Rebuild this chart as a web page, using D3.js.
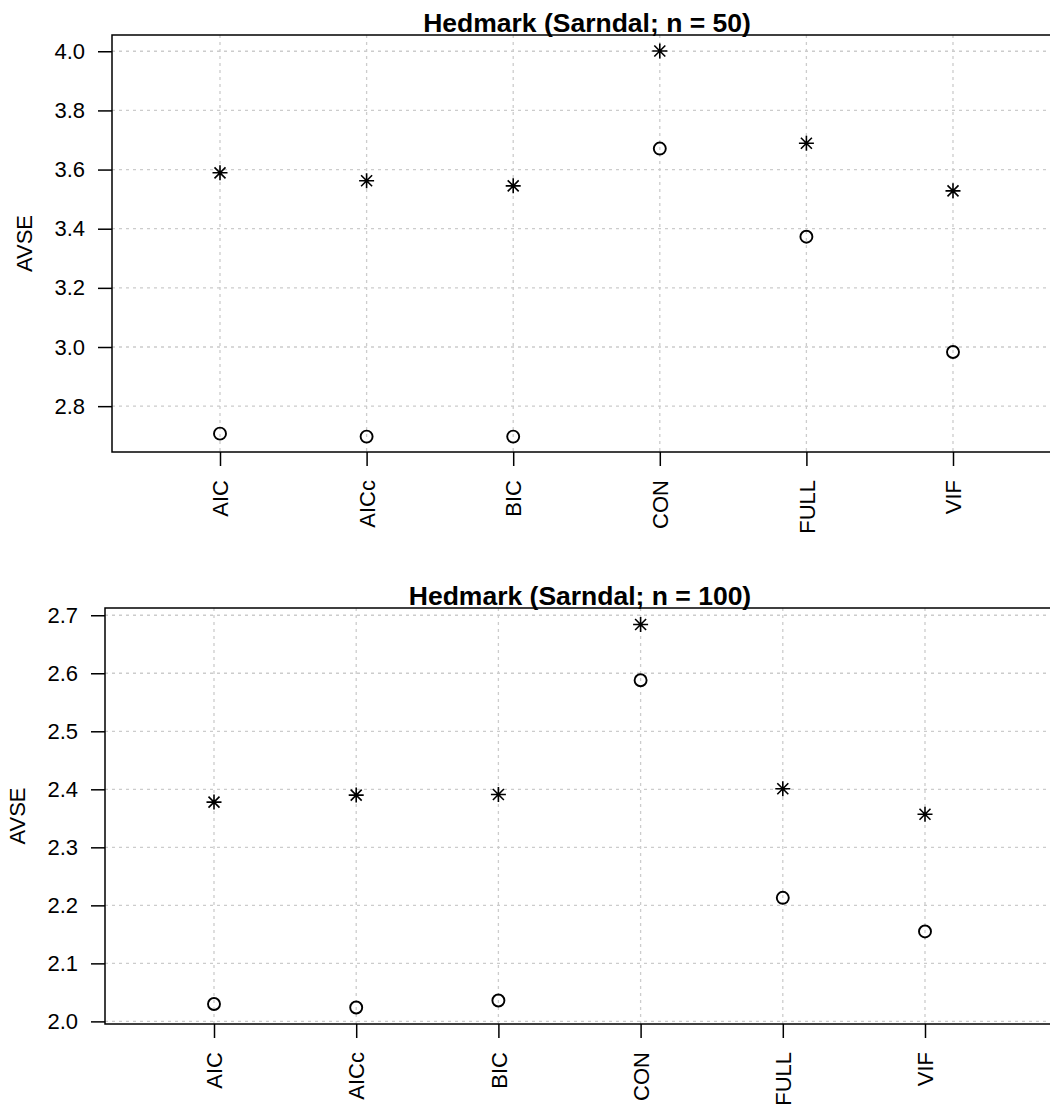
<!DOCTYPE html>
<html>
<head>
<meta charset="utf-8">
<script src="https://cdn.jsdelivr.net/npm/d3@7"></script>
<style>
  body { margin: 0; background: #fff; }
  svg { display: block; font-family: "Liberation Sans", Arial, Helvetica, sans-serif; }
</style>
</head>
<body>
<svg width="1050" height="1107"></svg>
<script>
const width = 1050
const height = 1107

// data
const methods = ["AIC", "AICc", "BIC", "CON", "FULL", "VIF"]

const titles = ["Hedmark (Sarndal; n = 50)", "Hedmark (Sarndal; n = 100)"]

const starN50 = [3.589, 3.562, 3.545, 4.001, 3.689, 3.528]
const circN50 = [2.707, 2.697, 2.697, 3.671, 3.373, 2.983]

const starN100 = [2.378, 2.390, 2.391, 2.684, 2.401, 2.357]
const circN100 = [2.030, 2.024, 2.036, 2.588, 2.213, 2.155]

const ticksN50 = [2.8, 3.0, 3.2, 3.4, 3.6, 3.8, 4.0]
const ticksN100 = [2.0, 2.1, 2.2, 2.3, 2.4, 2.5, 2.6, 2.7]

// panel layout (pixel boxes, R-style frame running off the right edge)
const panels = [
  {title: titles[0], stars: starN50, circles: circN50, ticks: ticksN50,
   left: 112, right: 1062, top: 35, bottom: 452,
   xFirst: 220, xLast: 953, yDomain: [2.645, 4.055], ylabX: 24},
  {title: titles[1], stars: starN100, circles: circN100, ticks: ticksN100,
   left: 105, right: 1055, top: 608, bottom: 1024,
   xFirst: 214, xLast: 925, yDomain: [1.9955, 2.7125], ylabX: 17}
]

const svg = d3.select("svg")

panels.forEach(p => {
  const g = svg.append("g")

  const x = d3.scalePoint()
    .domain(methods)
    .range([p.xFirst, p.xLast])

  const y = d3.scaleLinear()
    .domain(p.yDomain)
    .range([p.bottom, p.top])

  // grid
  g.append("g")
    .selectAll("line")
    .data(p.ticks)
    .join("line")
    .attr("x1", p.left).attr("x2", p.right)
    .attr("y1", d => y(d)).attr("y2", d => y(d))
    .attr("stroke", "#cccccc")
    .attr("stroke-width", 1.3)
    .attr("stroke-dasharray", "3,4")

  g.append("g")
    .selectAll("line")
    .data(methods)
    .join("line")
    .attr("x1", d => x(d)).attr("x2", d => x(d))
    .attr("y1", p.top).attr("y2", p.bottom)
    .attr("stroke", "#cccccc")
    .attr("stroke-width", 1.3)
    .attr("stroke-dasharray", "3,4")

  // frame
  g.append("rect")
    .attr("x", p.left).attr("y", p.top)
    .attr("width", p.right - p.left).attr("height", p.bottom - p.top)
    .attr("fill", "none")
    .attr("stroke", "#000")
    .attr("stroke-width", 1.5)

  // y axis
  const yAxis = g.append("g")
    .attr("transform", `translate(${p.left},0)`)
    .call(d3.axisLeft(y).tickValues(p.ticks).tickFormat(d3.format(".1f")).tickSize(14).tickPadding(13))
  yAxis.select(".domain").remove()
  yAxis.selectAll(".tick line").attr("stroke-width", 1.5)
  yAxis.selectAll(".tick text")
    .attr("font-size", "22px")
    .attr("font-family", "Liberation Sans, Arial, sans-serif")
    .attr("fill", "#000")

  // x axis
  const xAxis = g.append("g")
    .attr("transform", `translate(0,${p.bottom})`)
    .call(d3.axisBottom(x).tickSize(14))
  xAxis.select(".domain").remove()
  xAxis.selectAll(".tick line").attr("stroke-width", 1.5)
  xAxis.selectAll(".tick text")
    .attr("font-size", "22px")
    .attr("font-family", "Liberation Sans, Arial, sans-serif")
    .attr("fill", "#000")
    .attr("transform", "rotate(-90)")
    .attr("text-anchor", "end")
    .attr("x", -28)
    .attr("y", 0)
    .attr("dy", "0.35em")

  // title
  g.append("text")
    .attr("x", (p.left + p.right) / 2)
    .attr("y", p.top - 3)
    .attr("text-anchor", "middle")
    .attr("font-size", "26.5px")
    .attr("font-weight", "bold")
    .text(p.title)

  // y label
  g.append("text")
    .attr("transform", `translate(${p.ylabX},${(p.top + p.bottom) / 2}) rotate(-90)`)
    .attr("text-anchor", "middle")
    .attr("dy", "0.35em")
    .attr("font-size", "22px")
    .text("AVSE")

  // circles
  g.append("g")
    .selectAll("circle")
    .data(p.circles)
    .join("circle")
    .attr("cx", (d, i) => x(methods[i]))
    .attr("cy", d => y(d))
    .attr("r", 6)
    .attr("fill", "none")
    .attr("stroke", "#000")
    .attr("stroke-width", 1.9)

  // stars (pch 8)
  const star = "M-7.5,0H7.5M0,-7.5V7.5M-5.5,-5.5L5.5,5.5M-5.5,5.5L5.5,-5.5"
  g.append("g")
    .selectAll("path")
    .data(p.stars)
    .join("path")
    .attr("transform", (d, i) => `translate(${x(methods[i])},${y(d)})`)
    .attr("d", star)
    .attr("fill", "none")
    .attr("stroke", "#000")
    .attr("stroke-width", 1.6)
})
</script>
</body>
</html>
